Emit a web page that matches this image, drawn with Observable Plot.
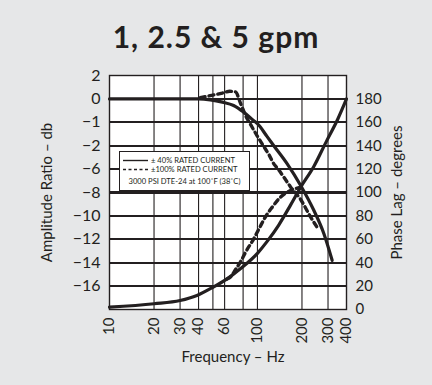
<!DOCTYPE html>
<html>
<head>
<meta charset="utf-8">
<script src="https://cdn.jsdelivr.net/npm/d3@7"></script>
<script src="https://cdn.jsdelivr.net/npm/@observablehq/plot@0.6"></script>
<style>
  html, body { margin: 0; padding: 0; background: #e6e7e8; }
  #wrap { position: relative; width: 432px; height: 385px; background: #e6e7e8; overflow: hidden;
          font-family: Lato, "Open Sans", sans-serif; color: #231f20; }
  #title { position: absolute; left: 0; top: 19px; width: 432px; text-align: center;
           font-size: 30px; font-weight: 700; line-height: 34px; letter-spacing: 1px; }
  #chart { position: absolute; left: 0; top: 0; }
  #legend { position: absolute; left: 119px; top: 151px; width: 129px; height: 38px; background: #fff;
            border: 1px solid #231f20; font-size: 7.6px; line-height: 9px; }
  #legend .row { position: absolute; left: 0; white-space: nowrap; }
  #legend svg { position: absolute; left: 3px; }
  #legend .lbl { position: absolute; left: 31px; }
  #legend .note { position: absolute; left: 0; width: 129px; text-align: center; }
</style>
</head>
<body>
<div id="wrap">
  <div id="title"></div>
  <div id="chart"></div>
  <div id="legend"></div>
</div>
<script>
// ---- data ----
const titleText = "1, 2.5 & 5 gpm";
const xLabel = "Frequency – Hz";
const yLeftLabel = "Amplitude Ratio – db";
const yRightLabel = "Phase Lag – degrees";

const freqTicks = [10, 20, 30, 40, 60, 80, 100, 200, 300, 400];
const freqGrid = [20, 30, 40, 50, 60, 80, 100, 200, 300];
const ampTicks = [2, 0, -1, -2, -6, -8, -10, -12, -14, -16];
const ampTickLabels = ["2", "0", "−1", "−2", "−6", "−8", "−10", "−12", "−14", "−16"];
const ampAxisBottom = -18;
const phaseTicks = [0, 20, 40, 60, 80, 100, 120, 140, 160, 180];
const phaseTop = 200;

// ±40% rated current (solid)
const ampSolidHz = [10, 20, 30, 40, 48, 58, 69, 81, 94, 100, 116, 129, 159, 196, 240, 281, 320];
const ampSolidDb = [0, 0, 0, 0, -0.04, -0.14, -0.28, -0.57, -0.92, -1.06, -1.6, -2.0, -5.1, -7.4, -9.5, -11.5, -13.8];
const phaseSolidHz = [10, 20, 30, 39, 50, 62, 77, 100, 116, 139, 167, 196, 240, 296, 347, 400];
const phaseSolidDeg = [2, 4.9, 7.7, 12, 19, 26, 35, 48, 58, 72, 89, 104.5, 122, 145, 162, 180];

// ±100% rated current (dashed)
const ampDashHz = [41, 49, 58, 65, 71, 77, 83, 90, 100, 110, 120, 129, 136, 151, 167, 196, 229, 260];
const ampDashDb = [0.1, 0.3, 0.5, 0.65, 0.6, -0.2, -0.7, -1.1, -1.6, -2.06, -3.6, -5.1, -5.8, -6.7, -7.5, -8.6, -10.1, -11.2];
const phaseDashHz = [62, 66, 71, 77, 84, 94, 103, 113, 126, 143, 170, 196];
const phaseDashDeg = [26, 28, 34, 41, 50, 60, 69.5, 79, 87.5, 96, 102, 104.5];

const legendSolid = "± 40% RATED CURRENT";
const legendDash = "±100% RATED CURRENT";
const legendNote = "3000 PSI DTE-24 at 100˚F (38˚C)";

// ---- build ----
const ink = "#231f20";
const fMin = freqTicks[0], fMax = freqTicks[freqTicks.length - 1];
// the amplitude axis has evenly spaced (non-linear) labels that share the phase grid rows
const ampDomain = [...ampTicks, ampAxisBottom];
const ampRowPos = ampDomain.map((_, i) => phaseTop - i * 20);
const dbToRow = d3.scaleLinear().domain(ampDomain).range(ampRowPos);
const rowLabel = new Map(ampTicks.map((v, i) => [dbToRow(v), ampTickLabels[i]]));
const hGrid = phaseTicks.filter((v) => v > 0);

const zip = (xs, ys, f = (v) => v) => xs.map((x, i) => ({x, y: f(ys[i])}));
const ampSolid = zip(ampSolidHz, ampSolidDb, dbToRow);
const ampDash = zip(ampDashHz, ampDashDb, dbToRow);
const phaseSolid = zip(phaseSolidHz, phaseSolidDeg);
const phaseDash = zip(phaseDashHz, phaseDashDeg);

const lineOpts = {x: "x", y: "y", stroke: ink, strokeWidth: 3.2, curve: "monotone-x"};
const dashOpts = {...lineOpts, strokeWidth: 3.4, strokeDasharray: "5,4"};

const chart = Plot.plot({
  width: 432,
  height: 385,
  marginLeft: 109,
  marginRight: 86,
  marginTop: 75,
  marginBottom: 76,
  style: {background: "transparent", fontFamily: "Lato, 'Open Sans', sans-serif", fontSize: "15px", color: ink},
  x: {type: "log", domain: [fMin, fMax]},
  y: {domain: [0, phaseTop]},
  marks: [
    Plot.frame({fill: "white", stroke: "none"}),
    Plot.ruleX(freqGrid, {stroke: ink, strokeWidth: 1.1}),
    Plot.ruleY(hGrid, {stroke: ink, strokeWidth: 2.2, shapeRendering: "crispEdges"}),
    Plot.frame({stroke: ink, strokeWidth: 1.4}),
    Plot.axisX({ticks: freqTicks, tickFormat: (d) => String(d), tickRotate: -90, tickSize: 0, tickPadding: 8,
                fontSize: 15, label: null}),
    Plot.axisY({anchor: "left", ticks: ampTicks.map(dbToRow), tickFormat: (d) => rowLabel.get(d),
                tickSize: 0, tickPadding: 9, fontSize: 16, label: null}),
    Plot.axisY({anchor: "right", ticks: phaseTicks, tickSize: 0, tickPadding: 9, fontSize: 15, label: null}),
    Plot.text([yLeftLabel], {frameAnchor: "left", rotate: -90, textAnchor: "middle", lineAnchor: "middle",
                             dx: -62, fontSize: 15, fill: ink}),
    Plot.text([yRightLabel], {frameAnchor: "right", rotate: -90, textAnchor: "middle", lineAnchor: "middle",
                              dx: 51, dy: 0, fontSize: 15, fill: ink}),
    Plot.text([xLabel], {frameAnchor: "bottom", lineAnchor: "middle", dy: 48, dx: 5, fontSize: 15, fill: ink}),
    Plot.line(phaseSolid, lineOpts),
    Plot.line(ampSolid, lineOpts),
    Plot.line(phaseDash, dashOpts),
    Plot.line(ampDash, dashOpts)
  ]
});
document.getElementById("chart").append(chart);
document.getElementById("title").textContent = titleText;

// legend (real text)
const lg = document.getElementById("legend");
lg.innerHTML = `
  <div class="row" style="top:4px;width:129px;height:9px">
    <svg width="26" height="9"><line x1="0" x2="25" y1="4.5" y2="4.5" stroke="${ink}" stroke-width="1.4"/></svg>
    <span class="lbl">${legendSolid}</span>
  </div>
  <div class="row" style="top:13px;width:129px;height:9px">
    <svg width="26" height="9"><line x1="0" x2="25" y1="4.5" y2="4.5" stroke="${ink}" stroke-width="1.4" stroke-dasharray="3,2.5"/></svg>
    <span class="lbl">${legendDash}</span>
  </div>
  <div class="note" style="top:25px">${legendNote}</div>`;
</script>
</body>
</html>
